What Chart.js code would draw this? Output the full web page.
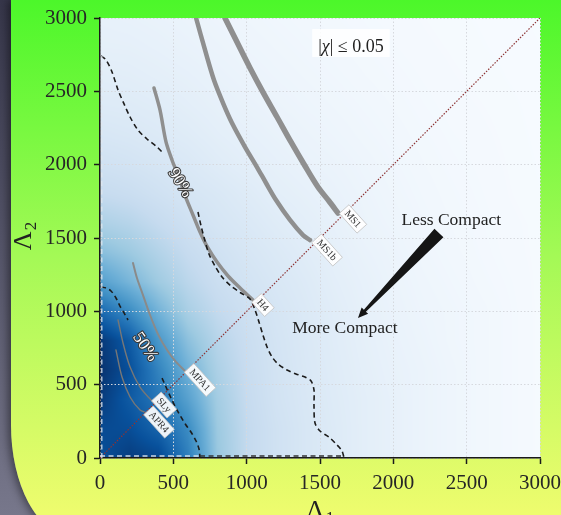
<!DOCTYPE html>
<html>
<head>
<meta charset="utf-8">
<script src="https://cdn.jsdelivr.net/npm/chart.js@4"></script>
<style>
  html, body { margin: 0; padding: 0; width: 561px; height: 515px; overflow: hidden; }
  body { position: relative; background: linear-gradient(to bottom, #36364a, #77778b); }
  #card {
    position: absolute; left: 11px; top: 0; width: 620px; height: 535px;
    background: linear-gradient(to bottom, #4cf72a 0%, #a4f956 48%, #eefc6e 96%);
    border-bottom-left-radius: 60px 110px;
    box-shadow: -3px 0 8px rgba(0, 0, 0, 0.45);
  }
  #wrap { position: absolute; left: 0; top: 0; width: 561px; height: 515px; }
</style>
</head>
<body>
<div id="card"></div>
<div id="wrap"><canvas id="c" width="561" height="515"></canvas></div>
<script>
// Tidal deformabilities of the two stars: Λ1 on x, Λ2 on y
const axisMin = 0;
const axisMax = 3000;
const tickStep = 500;

// Posterior density (0..1 on the Blues scale) on a 200-step grid.
// Columns follow gridLambda in Λ1; rows run from Λ2 = 3000 down to Λ2 = 0.
const gridLambda = [0, 200, 400, 600, 800, 1000, 1200, 1400, 1600, 1800, 2000, 2200, 2400, 2600, 2800, 3000];
const densityRows = [
  [.08, .075, .068, .06, .05, .042, .035, .029, .024, .019, .015, .012, .009, .007, .005, .003],
  [.09, .088, .08, .07, .06, .05, .042, .035, .029, .023, .018, .014, .011, .008, .006, .004],
  [.11, .105, .095, .085, .072, .06, .05, .042, .035, .028, .022, .017, .013, .01, .007, .004],
  [.13, .125, .115, .10, .085, .072, .06, .05, .042, .034, .027, .02, .015, .012, .009, .005],
  [.16, .15, .135, .12, .10, .085, .072, .06, .05, .04, .032, .024, .018, .014, .01, .006],
  [.20, .185, .165, .145, .12, .10, .085, .07, .06, .048, .037, .028, .021, .016, .011, .007],
  [.25, .23, .20, .17, .15, .125, .10, .085, .07, .055, .042, .032, .024, .018, .012, .008],
  [.33, .30, .25, .205, .17, .145, .12, .10, .08, .06, .048, .036, .027, .02, .014, .01],
  [.43, .38, .31, .245, .20, .165, .14, .115, .09, .07, .055, .04, .03, .022, .015, .01],
  [.57, .47, .37, .285, .225, .185, .155, .13, .10, .08, .06, .045, .035, .025, .018, .01],
  [.78, .65, .48, .34, .26, .21, .17, .14, .11, .085, .065, .05, .04, .03, .02, .01],
  [.97, .84, .60, .42, .30, .23, .18, .145, .115, .09, .07, .055, .04, .03, .02, .01],
  [.99, .88, .68, .49, .33, .24, .185, .15, .12, .095, .075, .06, .045, .03, .02, .01],
  [.96, .84, .73, .56, .36, .25, .19, .155, .125, .10, .08, .06, .045, .03, .02, .01],
  [.90, .89, .80, .65, .38, .26, .20, .16, .13, .10, .08, .06, .045, .03, .02, .01],
  [.88, .95, .92, .70, .39, .26, .20, .16, .13, .10, .08, .06, .045, .03, .02, .01]
];

// Credible-region contours, each split in two around its level label
const contour90a = [[7,2741],[41,2714],[82,2632],[123,2509],[164,2414],[205,2325],[259,2236],[320,2175],[382,2127],[430,2080]];
const contour90b = [[668,1677],[689,1582],[716,1480],[743,1391],[784,1309],[832,1234],[893,1173],[961,1125],[1023,1084],[1057,1009],[1084,927],[1111,839],[1139,757],[1173,689],[1214,641],[1275,600],[1336,573],[1398,552],[1439,525],[1459,464],[1459,361],[1466,239],[1500,184],[1561,143],[1616,89],[1650,48],[1664,0]];
const contour50a = [[7,1166],[41,1159],[75,1139],[109,1091],[136,1036],[164,989],[191,941]];
const contour50b = [[423,545],[450,484],[484,409],[518,341],[552,280],[586,225],[620,177],[655,116],[675,61],[682,0]];

// Equation-of-state curves, ending on the equal-deformability line
const eosMS1  = [[852,3000],[934,2836],[1023,2659],[1111,2495],[1207,2325],[1302,2155],[1398,1991],[1486,1848],[1561,1752],[1623,1670]];
const eosMS1b = [[655,3000],[716,2782],[777,2577],[839,2420],[900,2284],[989,2120],[1070,1984],[1132,1875],[1200,1759],[1295,1623],[1384,1520],[1432,1486]];
const eosH4   = [[368,2523],[409,2373],[450,2155],[491,2032],[539,1909],[586,1773],[634,1657],[682,1541],[736,1432],[798,1336],[873,1241],[955,1159],[1043,1077]];
const eosMPA1 = [[225,1330],[252,1227],[293,1111],[341,975],[395,845],[457,736],[518,655],[580,593]];
const eosSLy  = [[123,941],[157,784],[205,620],[273,484],[361,382],[375,375]];
const eosAPR4 = [[109,736],[150,552],[205,416],[273,327],[314,310]];

// Equal-deformability line Λ1 = Λ2
const diagonal = [[0,0],[3000,3000]];

// Text placed in data coordinates
const eosTags = [
  { name: 'MS1',  at: [1725, 1630] },
  { name: 'MS1b', at: [1548, 1418] },
  { name: 'H4',   at: [1111, 1043] },
  { name: 'MPA1', at: [682, 532] },
  { name: 'SLy',  at: [437, 361] },
  { name: 'APR4', at: [402, 245] }
];
const levelTags = [
  { text: '90%', at: [545, 1875], angle: 58 },
  { text: '50%', at: [307, 757], angle: 55 }
];
const spinNote = { at: [1711, 2768] };
const compactArrow = { from: [2311, 1534], to: [1759, 955] };
const lessLabel = { text: 'Less Compact', at: [2395, 1589] };
const moreLabel = { text: 'More Compact', at: [1670, 849] };

const SERIF = "'Liberation Serif', 'DejaVu Serif', serif";

// matplotlib "Blues"
const BLUES = [[247,251,255],[222,235,247],[198,219,239],[158,202,225],[107,174,214],[66,146,198],[33,113,181],[8,81,156],[8,48,107]];
function blues(v) {
  v = Math.max(0, Math.min(1, v));
  const t = v * (BLUES.length - 1);
  const i = Math.min(BLUES.length - 2, Math.floor(t));
  const f = t - i;
  return BLUES[i].map((c, k) => Math.round(c + (BLUES[i + 1][k] - c) * f));
}

const toXY = pts => pts.map(p => ({ x: p[0], y: p[1] }));

function pix(chart, p) {
  return [chart.scales.x.getPixelForValue(p[0]), chart.scales.y.getPixelForValue(p[1])];
}

// Density value at (l1, l2), shaded smoothly between grid nodes
function densityAt(l1, l2) {
  const n = gridLambda.length, step = gridLambda[1] - gridLambda[0];
  const fx = Math.max(0, Math.min(n - 1.0001, (l1 - gridLambda[0]) / step));
  const fy = Math.max(0, Math.min(n - 1.0001, (l2 - gridLambda[0]) / step));
  const i = Math.floor(fx), j = Math.floor(fy), tx = fx - i, ty = fy - j;
  const row = k => densityRows[n - 1 - k];
  const v00 = row(j)[i], v10 = row(j)[i + 1], v01 = row(j + 1)[i], v11 = row(j + 1)[i + 1];
  return (v00 * (1 - tx) + v10 * tx) * (1 - ty) + (v01 * (1 - tx) + v11 * tx) * ty;
}

// Density field, drawn under the grid and the curves
const densityLayer = {
  id: 'densityLayer',
  beforeDraw(chart) {
    const { ctx, chartArea: a, scales: { x, y } } = chart;
    const left = Math.round(a.left), top = Math.round(a.top);
    const w = Math.round(a.right) - left, h = Math.round(a.bottom) - top;
    const img = ctx.createImageData(w, h);
    for (let r = 0; r < h; r++) {
      const l2 = y.getValueForPixel(top + r + 0.5);
      for (let c = 0; c < w; c++) {
        const l1 = x.getValueForPixel(left + c + 0.5);
        const rgb = blues(densityAt(l1, l2));
        const k = (r * w + c) * 4;
        img.data[k] = rgb[0]; img.data[k + 1] = rgb[1]; img.data[k + 2] = rgb[2]; img.data[k + 3] = 255;
      }
    }
    ctx.putImageData(img, left, top);
  }
};

// Labels, arrow, contour edges and axis titles
const decorations = {
  id: 'decorations',
  afterDatasetsDraw(chart) {
    const { ctx, chartArea: a, scales: { x, y } } = chart;
    ctx.save();

    // contour pieces running along the axes
    const edge = (x1, y1, x2, y2, color) => {
      ctx.save();
      ctx.strokeStyle = color; ctx.lineWidth = 1.3; ctx.setLineDash([5, 3.5]);
      ctx.beginPath(); ctx.moveTo(x1, y1); ctx.lineTo(x2, y2); ctx.stroke();
      ctx.restore();
    };
    const lx = a.left + 1.8, by = a.bottom - 2;
    edge(lx, a.bottom, lx, y.getPixelForValue(contour90a[0][1]), 'rgba(225,232,240,0.9)');
    edge(a.left, by, x.getPixelForValue(contour50b[contour50b.length - 1][0]), by, 'rgba(225,232,240,0.9)');
    edge(x.getPixelForValue(contour50b[contour50b.length - 1][0]), by, x.getPixelForValue(contour90b[contour90b.length - 1][0]), by, '#333');

    // contour level labels
    levelTags.forEach(t => {
      const [px, py] = pix(chart, t.at);
      ctx.save();
      ctx.translate(px, py);
      ctx.rotate(t.angle * Math.PI / 180);
      ctx.font = `17px ${SERIF}`;
      ctx.textAlign = 'center'; ctx.textBaseline = 'middle';
      ctx.lineWidth = 2.2; ctx.strokeStyle = '#3a3a3a'; ctx.lineJoin = 'round';
      ctx.strokeText(t.text, 0, 0);
      ctx.fillStyle = '#ffffff';
      ctx.fillText(t.text, 0, 0);
      ctx.restore();
    });

    // EOS name tags
    eosTags.forEach(t => {
      const [px, py] = pix(chart, t.at);
      ctx.save();
      ctx.translate(px, py);
      ctx.rotate(48 * Math.PI / 180);
      ctx.font = `10px ${SERIF}`;
      const w = ctx.measureText(t.name).width + 7, h = 13;
      ctx.fillStyle = 'rgba(255,255,255,0.92)';
      ctx.fillRect(-w / 2, -h / 2, w, h);
      ctx.strokeStyle = '#c4c4c4'; ctx.lineWidth = 0.8;
      ctx.strokeRect(-w / 2, -h / 2, w, h);
      ctx.fillStyle = '#333';
      ctx.textAlign = 'center'; ctx.textBaseline = 'middle';
      ctx.fillText(t.name, 0, 0.5);
      ctx.restore();
    });

    // spin prior note
    {
      const [cx, base] = pix(chart, spinNote.at);
      const parts = [
        { s: '|', f: `18px ${SERIF}` },
        { s: 'χ', f: `italic 18px ${SERIF}` },
        { s: '| ≤ 0.05', f: `18px ${SERIF}` }
      ];
      let total = 0;
      parts.forEach(p => { ctx.font = p.f; p.w = ctx.measureText(p.s).width; total += p.w; });
      ctx.fillStyle = 'rgba(255,255,255,0.85)';
      ctx.fillRect(cx - total / 2 - 6, base - 23, total + 12, 28);
      let xx = cx - total / 2;
      ctx.fillStyle = '#222'; ctx.textBaseline = 'alphabetic'; ctx.textAlign = 'left';
      parts.forEach(p => { ctx.font = p.f; ctx.fillText(p.s, xx, base); xx += p.w; });
    }

    // compactness arrow
    {
      const [tx, ty] = pix(chart, compactArrow.from);
      const [hx, hy] = pix(chart, compactArrow.to);
      const dx = hx - tx, dy = hy - ty, L = Math.hypot(dx, dy);
      const ux = dx / L, uy = dy / L, nx = -uy, ny = ux;
      const tailHalf = 6.2, neckHalf = 1.4, headLen = 10, headHalf = 4.5;
      const bx = hx - ux * headLen, bby = hy - uy * headLen;
      ctx.beginPath();
      ctx.moveTo(tx + nx * tailHalf, ty + ny * tailHalf);
      ctx.lineTo(bx + nx * neckHalf, bby + ny * neckHalf);
      ctx.lineTo(bx + nx * headHalf, bby + ny * headHalf);
      ctx.lineTo(hx, hy);
      ctx.lineTo(bx - nx * headHalf, bby - ny * headHalf);
      ctx.lineTo(bx - nx * neckHalf, bby - ny * neckHalf);
      ctx.lineTo(tx - nx * tailHalf, ty - ny * tailHalf);
      ctx.closePath();
      ctx.fillStyle = '#151515';
      ctx.fill();
    }

    [lessLabel, moreLabel].forEach(l => {
      const [px, py] = pix(chart, l.at);
      ctx.font = `17.5px ${SERIF}`;
      ctx.fillStyle = '#222';
      ctx.textAlign = 'center'; ctx.textBaseline = 'alphabetic';
      ctx.fillText(l.text, px, py);
    });

    ctx.restore();
  },
  afterDraw(chart) {
    const { ctx, chartArea: a } = chart;
    ctx.save();
    ctx.fillStyle = '#222';
    ctx.textBaseline = 'alphabetic'; ctx.textAlign = 'left';
    const big = `26px ${SERIF}`, small = `17px ${SERIF}`;
    const title = (sub) => {
      ctx.font = big; const w1 = ctx.measureText('Λ').width;
      ctx.font = small; const w2 = ctx.measureText(sub).width;
      return { w1, w2, total: w1 + w2 + 1 };
    };
    // Λ1 under the x axis
    {
      const m = title('1');
      const cx = (a.left + a.right) / 2;
      const x0 = cx - m.total / 2, base = 518;
      ctx.font = big; ctx.fillText('Λ', x0, base);
      ctx.font = small; ctx.fillText('1', x0 + m.w1 + 1, base + 5);
    }
    // Λ2 beside the y axis
    {
      const m = title('2');
      const cy = (a.top + a.bottom) / 2 - 2;
      ctx.translate(31, cy);
      ctx.rotate(-Math.PI / 2);
      const x0 = -m.total / 2;
      ctx.font = big; ctx.fillText('Λ', x0, 0);
      ctx.font = small; ctx.fillText('2', x0 + m.w1 + 1, 5);
    }
    ctx.restore();
  }
};

const curve = (pts, color, width, order) => ({
  data: toXY(pts), showLine: true, pointRadius: 0, borderColor: color, borderWidth: width,
  borderCapStyle: 'round', borderJoinStyle: 'round', tension: 0.3, order
});
const dashed = (pts) => ({
  data: toXY(pts), showLine: true, pointRadius: 0, borderColor: '#1c1c1c', borderWidth: 1.6,
  borderDash: [5, 3.5], tension: 0.3, order: 2
});

const axisCommon = {
  type: 'linear', min: axisMin, max: axisMax,
  ticks: {
    stepSize: tickStep, color: '#262626', padding: 7,
    font: { family: SERIF, size: 21 },
    callback: v => String(v)
  },
  grid: { color: '#d6d9de', lineWidth: 1, tickColor: '#1a1a1a', tickLength: 6, tickWidth: 1.5 },
  border: { color: '#1a1a1a', width: 1.5, dash: [1.5, 2] }
};

new Chart(document.getElementById('c'), {
  type: 'scatter',
  data: {
    datasets: [
      { data: toXY(diagonal), showLine: true, pointRadius: 0, borderColor: '#8e3434', borderWidth: 1.2, borderDash: [1.5, 1.5], order: 1 },
      dashed(contour90a), dashed(contour90b), dashed(contour50a), dashed(contour50b),
      curve(eosMS1, '#8f8f8f', 5.5, 3),
      curve(eosMS1b, '#8f8f8f', 4.5, 3),
      curve(eosH4, '#8f8f8f', 3.5, 3),
      curve(eosMPA1, '#8a8a8a', 2, 3),
      curve(eosSLy, '#777777', 1.4, 3),
      curve(eosAPR4, '#777777', 1.4, 3)
    ]
  },
  options: {
    responsive: false,
    animation: false,
    devicePixelRatio: 1,
    layout: { padding: { top: 18, right: 21, left: 0, bottom: 0 } },
    plugins: { legend: { display: false }, tooltip: { enabled: false } },
    scales: {
      x: Object.assign({}, axisCommon, { position: 'bottom', afterFit: s => { s.height = 57; s.paddingLeft = 0; s.paddingRight = 0; } }),
      y: Object.assign({}, axisCommon, { position: 'left', afterFit: s => { s.width = 100; s.paddingTop = 0; s.paddingBottom = 0; } })
    }
  },
  plugins: [densityLayer, decorations]
});
</script>
</body>
</html>
